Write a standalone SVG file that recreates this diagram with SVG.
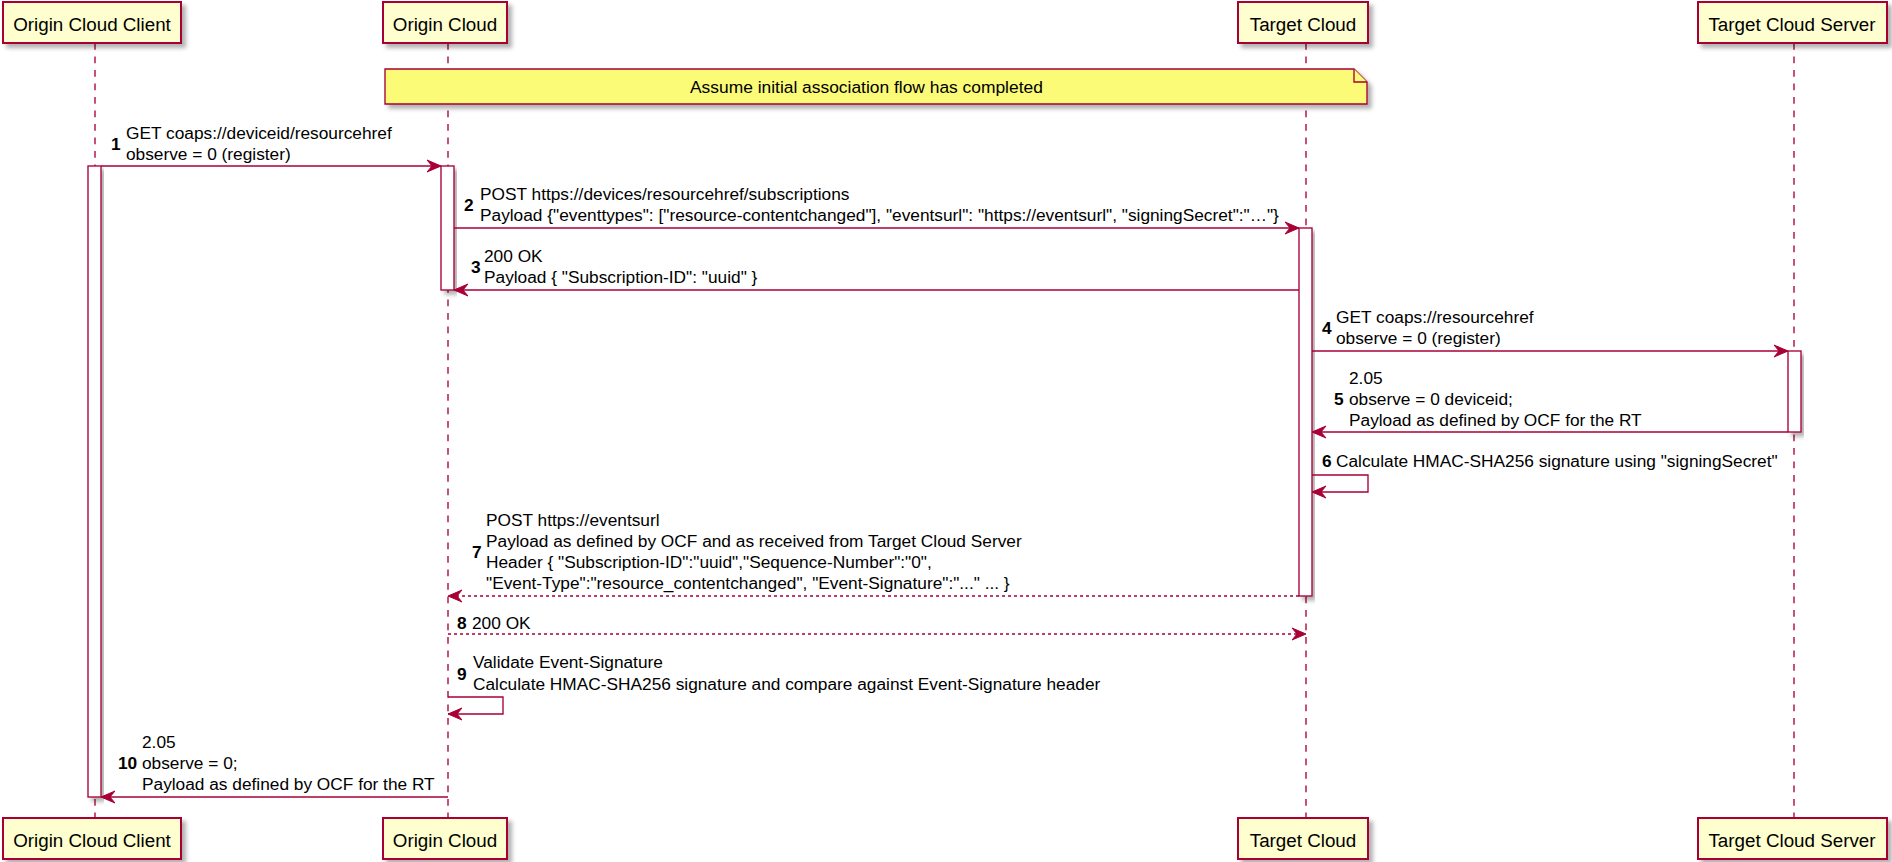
<svg xmlns="http://www.w3.org/2000/svg" width="1892" height="862" viewBox="0 0 1892 862">
<style>
.part{fill:#FEFECE;stroke:#A80036;stroke-width:2}
.ptxt{font-family:"Liberation Sans",Arial,sans-serif;font-size:18.8px;fill:#000;text-anchor:middle}
.life{stroke:#A80036;stroke-width:1.35;stroke-dasharray:6.75,6.75;fill:none}
.act{fill:#FFFFFF;stroke:#A80036;stroke-width:1.35}
.msg{stroke:#A80036;stroke-width:1.35;fill:none}
.dash{stroke-dasharray:3,3}
.t{font-family:"Liberation Sans",Arial,sans-serif;font-size:17.3px;fill:#000}
.n{font-family:"Liberation Sans",Arial,sans-serif;font-size:17.3px;font-weight:bold;fill:#000}
.note{fill:#FBFB77;stroke:#A80036;stroke-width:1.35}
</style>
<defs>
<filter id="sh" x="-10%" y="-10%" width="130%" height="140%">
<feDropShadow dx="4" dy="4" stdDeviation="2" flood-color="#000" flood-opacity="0.3"/>
</filter>
<marker id="ah" viewBox="0 -7 15 14" refX="14" refY="0" markerWidth="15" markerHeight="14" markerUnits="userSpaceOnUse" orient="auto">
<path d="M0,-6 L14,0 L0,6 L5,0 Z" fill="#A80036" stroke="#A80036" stroke-width="1" stroke-dasharray="none"/>
</marker>
</defs>
<rect width="1892" height="862" fill="#FFFFFF"/>
<g id="lifelines">
<line class="life" x1="95" y1="43" x2="95" y2="818"/>
<line class="life" x1="448" y1="43" x2="448" y2="818"/>
<line class="life" x1="1306" y1="43" x2="1306" y2="818"/>
<line class="life" x1="1794" y1="43" x2="1794" y2="818"/>
</g>
<g id="p-origin-client">
<rect class="part" x="3" y="2" width="178" height="41" filter="url(#sh)"/>
<text class="ptxt" x="92" y="31">Origin Cloud Client</text>
<rect class="part" x="3" y="818" width="178" height="41" filter="url(#sh)"/>
<text class="ptxt" x="92" y="847">Origin Cloud Client</text>
</g>
<g id="p-origin-cloud">
<rect class="part" x="383" y="2" width="124" height="41" filter="url(#sh)"/>
<text class="ptxt" x="445" y="31">Origin Cloud</text>
<rect class="part" x="383" y="818" width="124" height="41" filter="url(#sh)"/>
<text class="ptxt" x="445" y="847">Origin Cloud</text>
</g>
<g id="p-target-cloud">
<rect class="part" x="1238" y="2" width="130" height="41" filter="url(#sh)"/>
<text class="ptxt" x="1303" y="31">Target Cloud</text>
<rect class="part" x="1238" y="818" width="130" height="41" filter="url(#sh)"/>
<text class="ptxt" x="1303" y="847">Target Cloud</text>
</g>
<g id="p-target-server">
<rect class="part" x="1698" y="2" width="189" height="41" filter="url(#sh)"/>
<text class="ptxt" x="1792" y="31">Target Cloud Server</text>
<rect class="part" x="1698" y="818" width="189" height="41" filter="url(#sh)"/>
<text class="ptxt" x="1792" y="847">Target Cloud Server</text>
</g>
<g id="note-initial">
<path class="note" d="M385,69 L1354,69 L1367,82 L1367,104 L385,104 Z" filter="url(#sh)"/>
<path class="note" d="M1354,69 L1354,82 L1367,82" fill="none"/>
<text class="t" x="690" y="93" style="font-size:17.4px">Assume initial association flow has completed</text>
</g>
<g id="activations">
<rect class="act" x="88" y="166" width="13" height="631" filter="url(#sh)"/>
<rect class="act" x="441" y="166" width="13" height="124" filter="url(#sh)"/>
<rect class="act" x="1299" y="228" width="13" height="368" filter="url(#sh)"/>
<rect class="act" x="1788" y="351" width="13" height="81" filter="url(#sh)"/>
</g>
<g id="connectors">
<line class="msg" x1="101" y1="166" x2="441" y2="166" marker-end="url(#ah)"/>
<line class="msg" x1="454" y1="228" x2="1299" y2="228" marker-end="url(#ah)"/>
<line class="msg" x1="1299" y1="290" x2="454" y2="290" marker-end="url(#ah)"/>
<line class="msg" x1="1312" y1="351" x2="1788" y2="351" marker-end="url(#ah)"/>
<line class="msg" x1="1788" y1="432" x2="1312" y2="432" marker-end="url(#ah)"/>
<polyline class="msg" points="1312,475 1368,475 1368,492 1312,492" marker-end="url(#ah)"/>
<line class="msg dash" x1="1299" y1="596" x2="448" y2="596" marker-end="url(#ah)"/>
<line class="msg dash" x1="448" y1="634" x2="1306" y2="634" marker-end="url(#ah)"/>
<polyline class="msg" points="448,697 503,697 503,714 448,714" marker-end="url(#ah)"/>
<line class="msg" x1="448" y1="797" x2="101" y2="797" marker-end="url(#ah)"/>
</g>
<g id="labels">
<text class="n" x="111" y="150">1</text>
<text class="t" x="126" y="139">GET coaps://deviceid/resourcehref</text>
<text class="t" x="126" y="160">observe = 0 (register)</text>

<text class="n" x="464" y="211">2</text>
<text class="t" x="480" y="200">POST https://devices/resourcehref/subscriptions</text>
<text class="t" x="480" y="221">Payload {"eventtypes": ["resource-contentchanged"], "eventsurl": "https://eventsurl", "signingSecret":"…"}</text>

<text class="n" x="471" y="273">3</text>
<text class="t" x="484" y="262">200 OK</text>
<text class="t" x="484" y="283">Payload { "Subscription-ID": "uuid" }</text>

<text class="n" x="1322" y="334">4</text>
<text class="t" x="1336" y="323">GET coaps://resourcehref</text>
<text class="t" x="1336" y="344">observe = 0 (register)</text>

<text class="n" x="1334" y="405">5</text>
<text class="t" x="1349" y="384">2.05</text>
<text class="t" x="1349" y="405">observe = 0 deviceid;</text>
<text class="t" x="1349" y="426">Payload as defined by OCF for the RT</text>

<text class="n" x="1322" y="467">6</text>
<text class="t" x="1336" y="467">Calculate HMAC-SHA256 signature using "signingSecret"</text>

<text class="n" x="472" y="558">7</text>
<text class="t" x="486" y="526">POST https://eventsurl</text>
<text class="t" x="486" y="547">Payload as defined by OCF and as received from Target Cloud Server</text>
<text class="t" x="486" y="568">Header { "Subscription-ID":"uuid","Sequence-Number":"0",</text>
<text class="t" x="486" y="589">"Event-Type":"resource_contentchanged", "Event-Signature":"..." ... }</text>

<text class="n" x="457" y="629">8</text>
<text class="t" x="472" y="629">200 OK</text>

<text class="n" x="457" y="680">9</text>
<text class="t" x="473" y="668">Validate Event-Signature</text>
<text class="t" x="473" y="690">Calculate HMAC-SHA256 signature and compare against Event-Signature header</text>

<text class="n" x="118" y="769">10</text>
<text class="t" x="142" y="748">2.05</text>
<text class="t" x="142" y="769">observe = 0;</text>
<text class="t" x="142" y="790">Payload as defined by OCF for the RT</text>
</g>
</svg>
